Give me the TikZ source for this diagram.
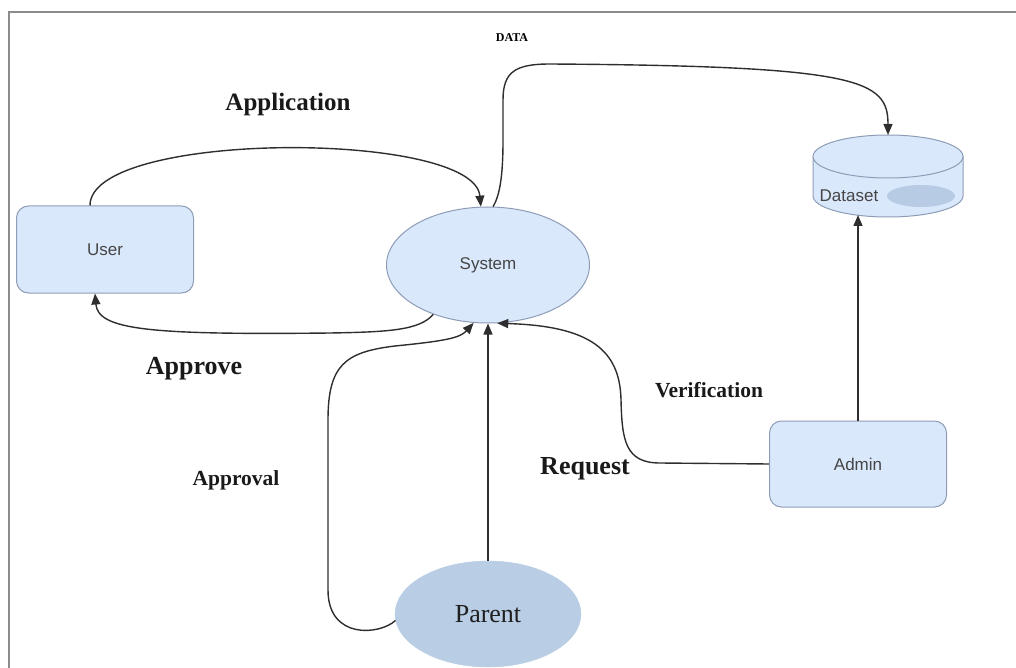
\documentclass[tikz,border=0pt]{standalone}
\usepackage{fontspec}
\setmainfont{Liberation Serif}
\newfontfamily\arialf{Liberation Sans}
\usetikzlibrary{shapes.geometric,arrows.meta}
\definecolor{boxfill}{HTML}{DAE8FC}
\definecolor{boxline}{HTML}{8D9DB6}
\definecolor{parfill}{HTML}{B9CDE5}
\definecolor{blurfill}{HTML}{B2C6E2}
\definecolor{conn}{HTML}{2E2E2E}
\definecolor{txtgray}{HTML}{454545}
\definecolor{framec}{HTML}{8C8C8C}
\begin{document}
\begin{tikzpicture}[x=1pt,y=-1pt,
  box/.style={draw=boxline, fill=boxfill, rounded corners=12pt, line width=1pt,
    font=\arialf\fontsize{17}{20}\selectfont, text=txtgray},
  oval/.style={ellipse, draw=boxline, fill=boxfill, line width=1pt, inner sep=0pt,
    font=\arialf\fontsize{17}{20}\selectfont, text=txtgray},
  flow/.style={draw=conn, line width=1.4pt, -{Triangle[length=11pt,width=9pt]}},
  lbl/.style={font=\bfseries\fontsize{26}{29}\selectfont, text=black!90},
  slbl/.style={font=\bfseries\fontsize{21.5}{25}\selectfont, text=black!90}]
\useasboundingbox (0,0) rectangle (1016,668);
% frame
\draw[framec, line width=2pt] (9,668) -- (9,12) -- (1016,12);

% nodes
\node[box, minimum width=177pt, minimum height=87pt] (user) at (105,249.5) {User};
\node[oval, minimum width=203pt, minimum height=116pt] (sys) at (488,265) {System};
\node[box, minimum width=177pt, minimum height=86pt] (admin) at (858,464) {Admin};
\node[ellipse, fill=parfill, draw=parfill, minimum width=186pt, minimum height=106pt,
  inner sep=0pt, font=\fontsize{26}{29}\selectfont, text=black!88] (parent) at (488,614) {Parent};

% dataset cylinder
\fill[boxfill] (813,156.5) -- (813,196) arc[start angle=180, end angle=0, x radius=75, y radius=21]
  -- (963,156.5) -- cycle;
\draw[boxline, line width=1pt] (813,156.5) -- (813,196) arc[start angle=180, end angle=0, x radius=75, y radius=21]
  -- (963,156.5);
\draw[boxline, fill=boxfill, line width=1pt] (888,156.5) ellipse[x radius=75, y radius=21.5];
\fill[blurfill, opacity=0.85] (921,196) ellipse[x radius=34, y radius=11];
\node[font=\arialf\fontsize{17}{20}\selectfont, text=txtgray] (ds) at (849,196) {Dataset};
\coordinate (dstop) at (888,135);
\coordinate (dsbot) at (858,215);

% connectors
\draw[flow] ([xshift=-15pt]user.north) .. controls (90,130) and (474,130) .. (sys.97);
\draw[flow] (sys.85) .. controls (500,195) and (503,175) .. (503,140)
  -- (503,100) .. controls (503,72) and (515,64) .. (550,64)
  .. controls (860,66) and (888,80) .. (dstop);
\draw[flow] (sys.222) .. controls (420,330) and (390,332) .. (330,333)
  .. controls (150,335) and (98,330) .. ([xshift=-10pt]user.south);
\draw[flow] (parent.184) .. controls (380,635) and (328,640) .. (328,590)
  -- (328,420) .. controls (328,365) and (345,352) .. (395,346)
  .. controls (445,341) and (460,338) .. (sys.256);
\draw[flow] (parent.north) -- (sys.south);
\draw[flow] (admin.west) -- (660,463) .. controls (625,463) and (622,440) .. (621,400)
  .. controls (620,350) and (590,326) .. (sys.279);
\draw[flow] (admin.north) -- (dsbot);

% labels
\node[font=\bfseries\fontsize{12}{14}\selectfont] (ldata) at (512,38) {DATA};
\node[font=\bfseries\fontsize{25}{28}\selectfont, text=black!90] (lapp) at (288,104) {Application};
\node[lbl] (lapprove) at (194,369) {Approve};
\node[slbl] (lapproval) at (236,480) {Approval};
\node[lbl] (lreq) at (585,469) {Request};
\node[slbl] (lver) at (709,390) {Verification};
\end{tikzpicture}
\end{document}
